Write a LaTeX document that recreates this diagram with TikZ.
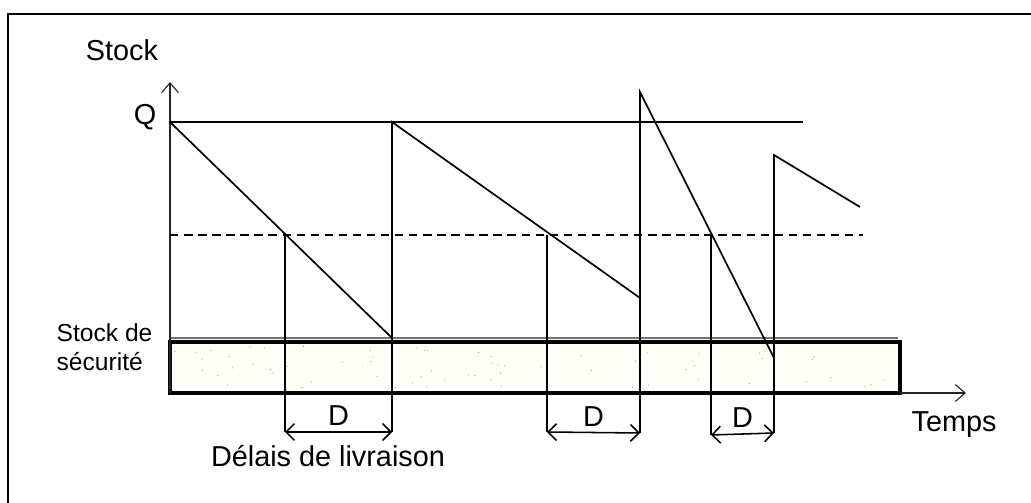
\documentclass[tikz,border=0pt]{standalone}
\usepackage{fontspec}
\setmainfont{Liberation Sans}
\usetikzlibrary{arrows.meta, positioning}

\definecolor{stockfill}{RGB}{255,254,249}
\definecolor{speck}{RGB}{160,120,70}

\begin{document}
\begin{tikzpicture}[
		x=0.025cm, y=-0.025cm,
		font=\fontsize{20.5}{24}\selectfont,
		curve/.style={line width=1.2pt, black},
		level/.style={line width=1.2pt, black},
		guide/.style={line width=1.1pt, black},
		axis/.style={line width=0.8pt, black!85, -{Straight Barb[length=7pt, width=12pt]}},
		delay/.style={line width=1.1pt, {Straight Barb[length=6pt, width=12pt]}-{Straight Barb[length=6pt, width=12pt]}},
		safety/.style={line width=2.2pt, draw=black, fill=stockfill},
		label/.style={inner sep=1pt}
		]
		
		\useasboundingbox (0,0) rectangle (1031,503);
		
		% Frame (cut on the right and at the bottom)
		\draw[line width=1.4pt] (8,503) -- (8,14) -- (1031,14);
		
		% Safety stock band
		\coordinate (bandNW) at (170,342);
		\coordinate (bandSE) at (900,393);
		\draw[line width=0.8pt, black!55] (170,338) -- (898,338);
		\draw[safety] (bandNW) rectangle (bandSE);
		\pgfmathsetseed{7}
		\foreach \i in {1,...,70}{
			\fill[speck] (175+rnd*720, 346+rnd*43) circle (0.35pt);
		}
		
		% Axes
		\coordinate (origin) at (170,393);
		\coordinate (ytip) at (170,82);
		\coordinate (xtip) at (966,393);
		\draw[axis] (origin) -- (ytip);
		\draw[axis] (bandSE) -- (xtip);
		\node[label] (stock) at (122,50) {Stock};
		\node[label] (temps) at (954,425) {Temps};
		\node[label, anchor=west, align=left, font=\fontsize{17.5}{21}\selectfont] (secu) at (55,347) {Stock de\\sécurité};
		
		% Levels
		\node[label] (Q) at (145,117) {Q};
		\coordinate (qend) at (803,122);
		\coordinate (rstart) at (170,235);
		\coordinate (rend) at (863,235);
		\draw[level] (170,122) -- (qend);
		\draw[level, dashed, dash pattern=on 6pt off 4pt] (rstart) -- (rend);
		
		% Stock curve
		\coordinate (s0) at (170,122);
		\coordinate (a1) at (392,338);
		\coordinate (t1) at (392,122);
		\coordinate (a2) at (640,298);
		\coordinate (t2) at (640,92);
		\coordinate (a3) at (774,358);
		\coordinate (t3) at (774,155);
		\coordinate (s4) at (860,207);
		\draw[curve] (s0) -- (a1) -- (t1) -- (a2) -- (t2) -- (a3) -- (t3) -- (s4);
		
		% Order points and deliveries
		\coordinate (o1) at (285,235);
		\coordinate (o2) at (547,235);
		\coordinate (o3) at (711,235);
		\coordinate (d1a) at (285,432);
		\coordinate (d1b) at (392,432);
		\coordinate (d2a) at (547,432);
		\coordinate (d2b) at (640,433);
		\coordinate (d3a) at (711,435);
		\coordinate (d3b) at (774,433);
		\draw[guide] (o1) -- (d1a);
		\draw[guide] (a1) -- (d1b);
		\draw[guide] (o2) -- (d2a);
		\draw[guide] (a2) -- (d2b);
		\draw[guide] (o3) -- (d3a);
		\draw[guide] (a3) -- (d3b);
		
		% Lead times
		\draw[delay] (d1a) -- (d1b) node[midway, above=3pt, label] (D1) {D};
		\draw[delay] (d2a) -- (d2b) node[midway, above=3pt, label] (D2) {D};
		\draw[delay] (d3a) -- (d3b) node[midway, above=3pt, label] (D3) {D};
		\node[label] (delais) at (328,456) {Délais de livraison};
		
	\end{tikzpicture}
\end{document}
